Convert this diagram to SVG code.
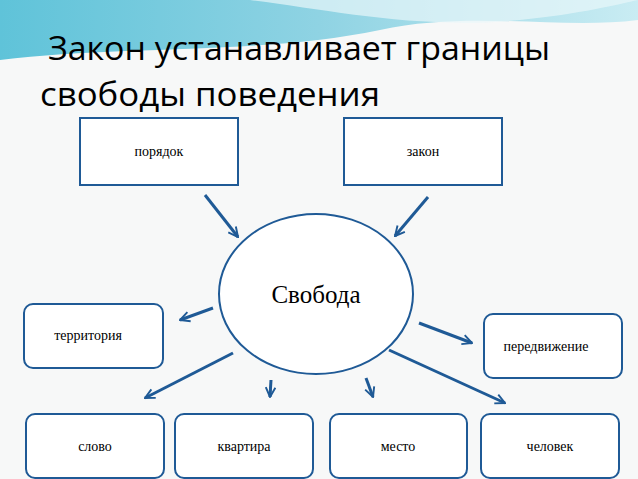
<svg xmlns="http://www.w3.org/2000/svg" width="638" height="479" viewBox="0 0 638 479">
<defs>
<linearGradient id="bg" x1="0" y1="0" x2="1" y2="0"><stop offset="0" stop-color="#5fc3d9"/><stop offset="0.5" stop-color="#8fd3e3"/><stop offset="1" stop-color="#c9ecf3"/></linearGradient>
<marker id="ah" viewBox="0 0 10 10" refX="9" refY="5" markerWidth="4" markerHeight="4" orient="auto" markerUnits="strokeWidth"><path d="M1,1 L9,5 L1,9" fill="none" stroke="#1f5a96" stroke-width="1.6"/></marker>
</defs>
<style>
.box{fill:#fff;stroke:#1f5a96;stroke-width:2}
.lbl{font-family:"Liberation Serif",serif;font-size:14px;fill:#000;text-anchor:middle}
.con line{stroke:#1f5a96;stroke-width:3;marker-end:url(#ah)}
</style>
<rect width="638" height="479" fill="#f7f8f8"/>
<path d="M0,0 H638 V20 C560,30 470,10 380,30 C260,55 120,45 0,60 Z" fill="url(#bg)"/>
<path d="M250,0 C330,10 420,30 520,20 C580,14 620,4 638,0 Z" fill="#e8f7fa" opacity="0.7"/>
<text x="48" y="60" font-family="Open Sans,sans-serif" font-size="32" fill="#000" textLength="502" lengthAdjust="spacingAndGlyphs">Закон устанавливает границы</text>
<text x="40" y="106" font-family="Open Sans,sans-serif" font-size="32" fill="#000" textLength="340" lengthAdjust="spacingAndGlyphs">свободы поведения</text>
<g id="poryadok"><rect class="box" x="80" y="118" width="158" height="67"/><text class="lbl" x="159" y="156">порядок</text></g>
<g id="zakon"><rect class="box" x="344" y="118" width="158" height="67"/><text class="lbl" x="423" y="156">закон</text></g>
<g id="svoboda"><ellipse cx="316" cy="294" rx="97" ry="80" fill="#fff" stroke="#1f5a96" stroke-width="2"/><text x="316" y="303" font-family="Liberation Serif,serif" font-size="25" text-anchor="middle">Свобода</text></g>
<g id="territoriya"><rect class="box" x="24" y="304" width="139" height="64" rx="9"/><text class="lbl" x="88" y="340">территория</text></g>
<g id="peredvizhenie"><rect class="box" x="484" y="314" width="138" height="64" rx="9"/><text class="lbl" x="546" y="351">передвижение</text></g>
<g id="slovo"><rect class="box" x="26" y="414" width="138" height="64" rx="9"/><text class="lbl" x="95" y="451">слово</text></g>
<g id="kvartira"><rect class="box" x="175" y="414" width="138" height="64" rx="9"/><text class="lbl" x="244" y="451">квартира</text></g>
<g id="mesto"><rect class="box" x="330" y="414" width="137" height="64" rx="9"/><text class="lbl" x="398" y="451">место</text></g>
<g id="chelovek"><rect class="box" x="481" y="414" width="138" height="64" rx="9"/><text class="lbl" x="550" y="451">человек</text></g>
<g class="con">
<line x1="205" y1="195" x2="238" y2="237"/>
<line x1="428" y1="197" x2="395" y2="236"/>
<line x1="213" y1="308" x2="180" y2="320"/>
<line x1="419" y1="323" x2="472" y2="343"/>
<line x1="233" y1="353" x2="145" y2="398"/>
<line x1="389" y1="350" x2="505" y2="403"/>
<line x1="271" y1="380" x2="270" y2="397"/>
<line x1="366" y1="378" x2="373" y2="397"/>
</g>
</svg>
